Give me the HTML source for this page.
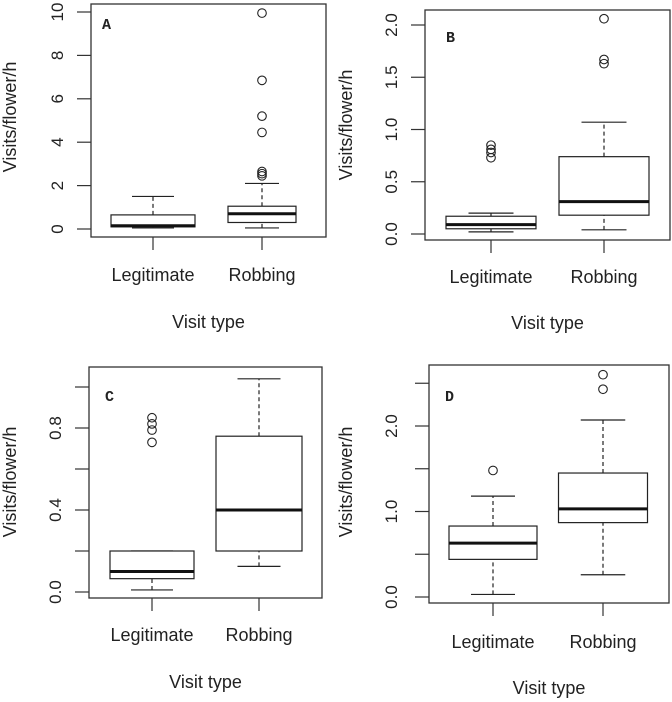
<!DOCTYPE html>
<html><head><meta charset="utf-8"><style>
body{margin:0;background:#fff}
svg{display:block}
text{font-family:"Liberation Sans",sans-serif;fill:#222}
</style></head><body>
<svg id="fig" width="672" height="702" viewBox="0 0 672 702"></svg>
<script>
const categories=["Legitimate","Robbing"];
// stats per panel: [low whisker, q1, median, q3, high whisker]
const statsA=[[0.05,0.1,0.15,0.65,1.5],[0.05,0.3,0.7,1.05,2.1]];
const outA=[[],[2.45,2.55,2.65,4.45,5.2,6.85,9.95]];
const ticksA=[0,2,4,6,8,10];
const labelsA=["0","2","4","6","8","10"];
const statsB=[[0.02,0.05,0.09,0.17,0.2],[0.04,0.18,0.31,0.74,1.07]];
const outB=[[0.73,0.78,0.81,0.85],[1.63,1.67,2.06]];
const ticksB=[0,0.5,1,1.5,2];
const labelsB=["0.0","0.5","1.0","1.5","2.0"];
const statsC=[[0.01,0.065,0.1,0.2,0.2],[0.125,0.2,0.4,0.76,1.04]];
const outC=[[0.73,0.79,0.82,0.85],[]];
const ticksC=[0,0.2,0.4,0.6,0.8,1.0];
const labelsC=["0.0","","0.4","","0.8",""];
const statsD=[[0.03,0.44,0.63,0.83,1.18],[0.26,0.87,1.03,1.45,2.07]];
const outD=[[1.48],[2.43,2.6]];
const ticksD=[0,0.5,1,1.5,2,2.5];
const labelsD=["0.0","","1.0","","2.0",""];

const svg=document.getElementById('fig');
const NS='http://www.w3.org/2000/svg';
function mk(tag,attrs,parent){const e=document.createElementNS(NS,tag);for(const k in attrs)e.setAttribute(k,attrs[k]);(parent||svg).appendChild(e);return e;}

const panels=[
 {id:'a',letter:'A',stats:statsA,out:outA,ticks:ticksA,labels:labelsA,box:[91,4,326,237],y0:229,yv:10,y1:12,cx:[153,262],hw:[42,34],lx:[102,29],tlx:57,ttx:10,xl:275,xt:322,ty:117},
 {id:'b',letter:'B',stats:statsB,out:outB,ticks:ticksB,labels:labelsB,box:[425,10,670,240],y0:234,yv:2,y1:25,cx:[491,604],hw:[45,45],lx:[446,42],tlx:391,ttx:346,xl:277,xt:323,ty:125},
 {id:'c',letter:'C',stats:statsC,out:outC,ticks:ticksC,labels:labelsC,box:[89,367,322,598],y0:592,yv:0.8,y1:428,cx:[152,259],hw:[42,43],lx:[105,401],tlx:55,ttx:10,xl:635,xt:682,ty:482},
 {id:'d',letter:'D',stats:statsD,out:outD,ticks:ticksD,labels:labelsD,box:[429,365,669,603],y0:597,yv:2,y1:426,cx:[493,603],hw:[44,44.5],lx:[445,401],tlx:391,ttx:346,xl:642,xt:688,ty:482}
];

panels.forEach(p=>{
  const g=mk('g',{});
  
  
  const y=v=>p.y0+(p.y1-p.y0)*v/p.yv;
  const [bx0,by0,bx1,by1]=p.box;
  const frame=mk('rect',{x:bx0,y:by0,width:bx1-bx0,height:by1-by0,fill:'none',stroke:'#333','stroke-width':1.3},g);
  
  
  const lt=mk('text',{x:p.lx[0],y:p.lx[1],'font-size':15,'font-weight':'bold',style:'font-family:"Liberation Mono",monospace'},g);
  lt.textContent=p.letter;
  
  
  p.ticks.forEach((t,i)=>{
    const yy=y(t);
    const tk=mk('line',{x1:bx0-14,x2:bx0,y1:yy,y2:yy,stroke:'#333','stroke-width':1.2},g);
    
    
    if(p.labels[i]){
      const tl=mk('text',{x:0,y:0,'font-size':17,'text-anchor':'middle',transform:`translate(${p.tlx+6},${yy}) rotate(-90)`},g);
      tl.textContent=p.labels[i];
      
      
    }
  });
  const yt=mk('text',{x:0,y:0,'font-size':18,'text-anchor':'middle',transform:`translate(${p.ttx+6},${p.ty}) rotate(-90)`},g);
  yt.textContent='Visits/flower/h';
  
  
  categories.forEach((c,i)=>{
    const cx=p.cx[i];
    const xt=mk('line',{x1:cx,x2:cx,y1:by1,y2:by1+13,stroke:'#333','stroke-width':1.2},g);
    
    
    const xl=mk('text',{x:cx,y:p.xl+6,'font-size':18,'text-anchor':'middle'},g);
    xl.textContent=c;
    
    
    const s=p.stats[i],hw=p.hw[i],cw=hw/2;
    const bg=mk('g',{},g);
    
    
    const st={stroke:'#222','stroke-width':1.2};
    mk('line',Object.assign({x1:cx,x2:cx,y1:y(s[0]),y2:y(s[1]),'stroke-dasharray':'4,3'},st),bg);
    mk('line',Object.assign({x1:cx,x2:cx,y1:y(s[3]),y2:y(s[4]),'stroke-dasharray':'4,3'},st),bg);
    mk('line',Object.assign({x1:cx-cw,x2:cx+cw,y1:y(s[0]),y2:y(s[0])},st),bg);
    mk('line',Object.assign({x1:cx-cw,x2:cx+cw,y1:y(s[4]),y2:y(s[4])},st),bg);
    mk('rect',Object.assign({x:cx-hw,y:y(s[3]),width:2*hw,height:y(s[1])-y(s[3]),fill:'#fff'},st),bg);
    mk('line',{x1:cx-hw,x2:cx+hw,y1:y(s[2]),y2:y(s[2]),stroke:'#111','stroke-width':3},bg);
    p.out[i].forEach(v=>{
      const o=mk('circle',{cx:cx,cy:y(v),r:4.3,fill:'none',stroke:'#222','stroke-width':1.1},bg);
      
      
    });
  });
  const xt2=mk('text',{x:(bx0+bx1)/2,y:p.xt+6,'font-size':18,'text-anchor':'middle'},g);
  xt2.textContent='Visit type';
  
  
});
</script>
</body></html>
